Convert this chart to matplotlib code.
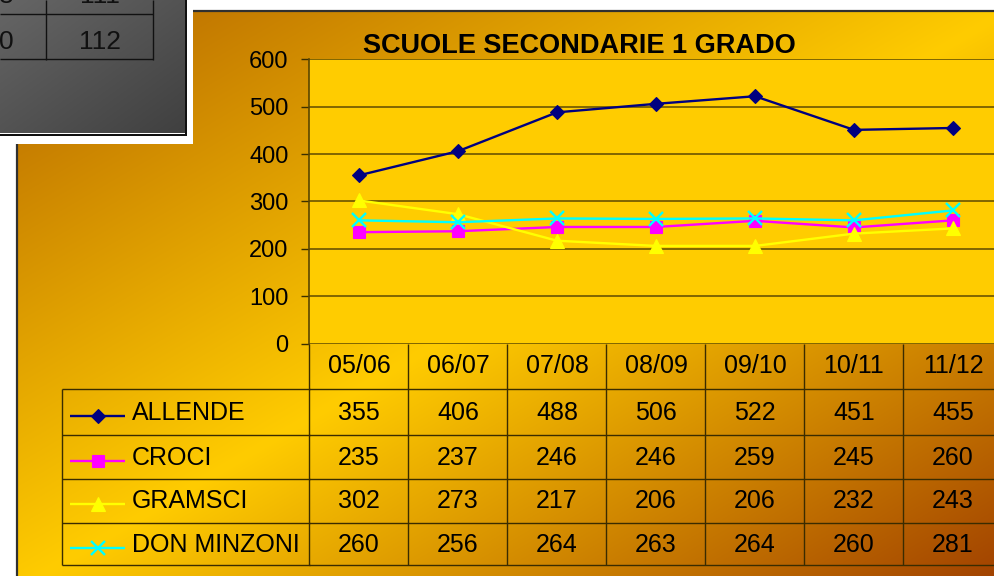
import numpy as np
import matplotlib
matplotlib.use("Agg")
import matplotlib.pyplot as plt
from matplotlib import transforms
from matplotlib.patches import Rectangle

# ---------------- data ----------------
categories = ["05/06", "06/07", "07/08", "08/09", "09/10", "10/11", "11/12"]
allende = [355, 406, 488, 506, 522, 451, 455]
croci = [235, 237, 246, 246, 259, 245, 260]
gramsci = [302, 273, 217, 206, 206, 232, 243]
don_minzoni = [260, 256, 264, 263, 264, 260, 281]
series_names = ["ALLENDE", "CROCI", "GRAMSCI", "DON MINZONI"]
y_ticks = [0, 100, 200, 300, 400, 500, 600]
title = "SCUOLE SECONDARIE 1 GRADO"
# fragment of another (overlapping) table window, top-left
inset_top_row = ["8", "111"]
inset_bottom_row = ["0", "112"]

series = [allende, croci, gramsci, don_minzoni]
styles = [
    dict(color="#000080", marker="D", ms=7.6, mec="#000080", mfc="#000080", mew=0.8),
    dict(color="#FF00FF", marker="s", ms=8.4, mec="#FF00FF", mfc="#FF00FF", mew=0.8),
    dict(color="#FFFF00", marker="^", ms=9.4, mec="#FFFF00", mfc="#FFFF00", mew=0.8),
    dict(color="#00FFFF", marker="x", ms=9.4, mec="#00FFFF", mew=1.7),
]

FONT = "Liberation Sans"
plt.rcParams["font.family"] = [FONT, "DejaVu Sans"]

W, H = 995, 576
fig = plt.figure(figsize=(W / 100, H / 100), dpi=100)
fig.patch.set_facecolor("white")

# ---------------- background (chart area gradient) ----------------
bg = fig.add_axes([0, 0, 1, 1], zorder=0)
bg.set_xlim(0, W)
bg.set_ylim(H, 0)
bg.axis("off")

cx0, cy0, cw, ch = 16, 10, 994, 580
xs = np.arange(cx0, W) + 0.5
ys = np.arange(cy0, H) + 0.5
XX, YY = np.meshgrid(xs, ys)
t = ((XX - cx0) / cw + (YY - cy0) / ch) / 2.0
c_dark1 = np.array([0.71, 0.40, 0.00])
c_mid = np.array([1.00, 0.80, 0.00])
c_dark2 = np.array([0.62, 0.24, 0.00])
tt = t[..., None]
img = np.where(tt < 0.5,
               c_dark1 + (c_mid - c_dark1) * (tt / 0.5),
               c_mid + (c_dark2 - c_mid) * ((tt - 0.5) / 0.5))
bg.imshow(img, extent=[cx0, W, H, cy0], aspect="auto", interpolation="bilinear", zorder=0)
bg.plot([cx0, W], [cy0 + 1, cy0 + 1], color="#303030", lw=1.6, zorder=1, solid_capstyle="butt")
bg.plot([cx0 + 1, cx0 + 1], [cy0, H], color="#303030", lw=1.6, zorder=1, solid_capstyle="butt")

# ---------------- plot area ----------------
pl, pr, pt, pb = 309.5, 1002.5, 59.3, 343.5
ax = fig.add_axes([pl / W, (H - pb) / H, (pr - pl) / W, (pb - pt) / H], zorder=1)
ax.set_facecolor("#FFCC00")
ax.set_xlim(-0.5, len(categories) - 0.5)
ax.set_ylim(0, 600)
ax.set_yticks(y_ticks)
ax.set_yticklabels([str(v) for v in y_ticks], fontsize=17, family=FONT)
ax.set_xticks([])
ax.yaxis.grid(True, color="#6B5400", lw=1.2)
ax.set_axisbelow(True)
for s in ["top", "right", "bottom"]:
    ax.spines[s].set_visible(False)
ax.spines["left"].set_color("#5A4600")
ax.spines["left"].set_linewidth(1.2)
ax.tick_params(axis="y", direction="out", length=5.5, width=1.0, color="#3A2E00", pad=9.5)

xpos = np.arange(len(categories))
for vals, st in zip(series, styles):
    ax.plot(xpos, vals, lw=1.7, **st)

fig.text(579 / W, 1 - 53 / H, title, ha="center", va="baseline",
         fontsize=19.5, fontweight="bold", family=FONT, color="black")

# ---------------- overlay: data table + other window ----------------
ov = fig.add_axes([0, 0, 1, 1], zorder=2)
ov.set_xlim(0, W)
ov.set_ylim(H, 0)
ov.axis("off")
ov.patch.set_alpha(0)

blend = transforms.blended_transform_factory(ax.transData, ov.transData)
line_c = "#3A2C00"
row_edges = [343.5, 389, 434.5, 479, 523, 565]
baselines = [372.7, 420, 465, 508.5, 552.5]
leg_left = 62
ncol = len(categories)

# horizontal lines
for k, yb in enumerate(row_edges):
    if k == 0:
        continue
    ov.plot([leg_left, pl], [yb, yb], color=line_c, lw=1.0, solid_capstyle="butt")
    ov.plot([-0.5, ncol - 0.5], [yb, yb], color=line_c, lw=1.0, transform=blend,
            solid_capstyle="butt", clip_on=False)
# vertical lines
for i in range(ncol + 1):
    ov.plot([i - 0.5, i - 0.5], [row_edges[0], row_edges[-1]], color=line_c, lw=1.0,
            transform=blend, solid_capstyle="butt", clip_on=False)
ov.plot([leg_left, leg_left], [row_edges[1], row_edges[-1]], color=line_c, lw=1.0,
        solid_capstyle="butt")

# header labels
for i, c in enumerate(categories):
    ov.text(i, baselines[0], c, transform=blend, ha="center", va="baseline",
            fontsize=18, family=FONT, color="black")
# values + legend keys
for r, (name, vals, st) in enumerate(zip(series_names, series, styles)):
    yb = baselines[r + 1]
    for i, v in enumerate(vals):
        ov.text(i, yb, str(v), transform=blend, ha="center", va="baseline",
                fontsize=18, family=FONT, color="black")
    ly = yb - 4.5
    ov.plot([70, 125], [ly, ly], color=st["color"], lw=1.7, solid_capstyle="butt")
    mk = {k: v for k, v in st.items() if k != "color"}
    ov.plot([97.5], [ly], color=st["color"], ls="none", **mk)
    ov.text(132, yb, name, ha="left", va="baseline", fontsize=18, family=FONT, color="black")

# other window fragment (top-left)
ov.add_patch(Rectangle((0, 0), 193, 144, facecolor="white", edgecolor="none", zorder=3))
ov.add_patch(Rectangle((0, 0), 187.3, 135.5, facecolor="#111111", edgecolor="none", zorder=3))
ov.add_patch(Rectangle((0, 0), 185.3, 133.5, facecolor="white", edgecolor="none", zorder=3))
gx = np.arange(0, 185) + 0.5
gy = np.arange(0, 133) + 0.5
GX, GY = np.meshgrid(gx, gy)
gt = (GX / 185 + GY / 133) / 2.0
gimg = (0.40 - 0.15 * gt)[..., None] * np.ones(3)
ov.imshow(gimg, extent=[0, 184.5, 132.8, 0], aspect="auto", zorder=4, interpolation="bilinear")
ov.set_xlim(0, W)
ov.set_ylim(H, 0)
for yl in [14, 59]:
    ov.plot([0, 153], [yl, yl], color="#111111", lw=1.0, zorder=5, solid_capstyle="butt")
for xl in [46, 153]:
    ov.plot([xl, xl], [0, 59.5], color="#111111", lw=1.0, zorder=5, solid_capstyle="butt")
ov.text(14, 3, inset_top_row[0], ha="right", va="baseline", fontsize=19, family=FONT,
        color="#111111", zorder=5)
ov.text(100, 3, inset_top_row[1], ha="center", va="baseline", fontsize=19, family=FONT,
        color="#111111", zorder=5)
ov.text(14, 49, inset_bottom_row[0], ha="right", va="baseline", fontsize=19, family=FONT,
        color="#111111", zorder=5)
ov.text(100, 49, inset_bottom_row[1], ha="center", va="baseline", fontsize=19, family=FONT,
        color="#111111", zorder=5)

fig.savefig("out.png", dpi=100, facecolor=fig.get_facecolor())
